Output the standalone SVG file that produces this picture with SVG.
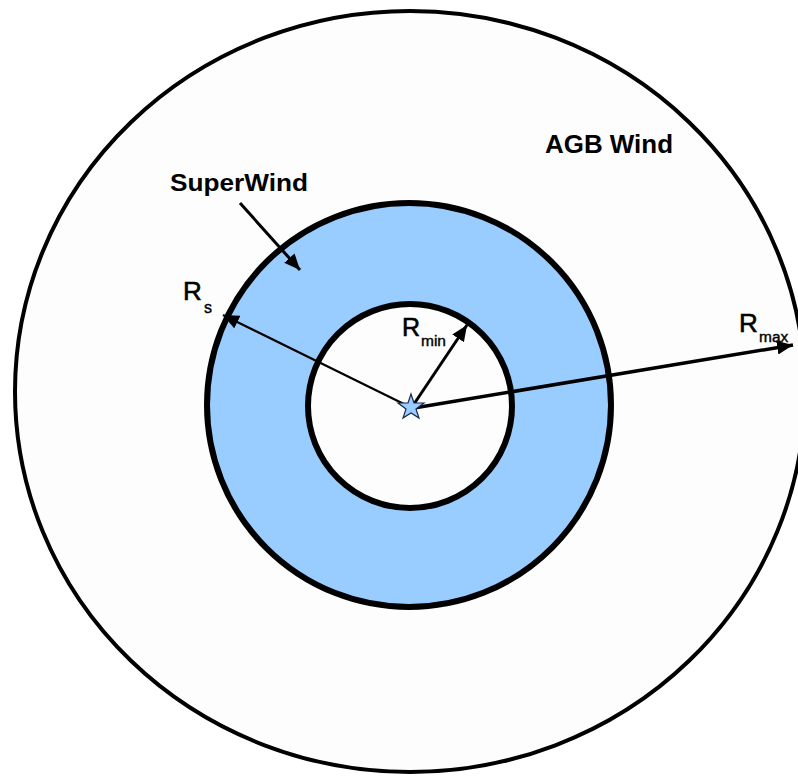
<svg xmlns="http://www.w3.org/2000/svg" width="798" height="776" viewBox="0 0 798 776">
  <style>
    .lbl { font-family: "Liberation Sans", Arial, sans-serif; fill: #000; }
    .bold { font-weight: bold; }
    .conn { stroke: #000; fill: none; }
  </style>
  <defs>
    <marker id="ah" markerUnits="userSpaceOnUse" markerWidth="18" markerHeight="14" refX="16" refY="7" orient="auto">
      <path d="M0,0 L16,7 L0,14 Z" fill="#000"/>
    </marker>
  </defs>
  <rect x="0" y="0" width="798" height="776" fill="#ffffff"/>

  <g id="agb-wind">
    <ellipse cx="410" cy="391.5" rx="395" ry="380.5" fill="#fdfdfd" stroke="#000" stroke-width="4"/>
  </g>
  <g id="superwind">
    <circle cx="409" cy="405" r="202" fill="#99ccff" stroke="#000" stroke-width="6"/>
  </g>
  <g id="inner-region">
    <circle cx="410" cy="406" r="102" fill="#fdfdfd" stroke="#000" stroke-width="6"/>
  </g>

  <g id="connectors">
    <line class="conn" x1="410" y1="407" x2="223" y2="315" stroke-width="2.2" marker-end="url(#ah)"/>
    <line class="conn" x1="412" y1="407" x2="467" y2="325" stroke-width="3" marker-end="url(#ah)"/>
    <line class="conn" x1="414" y1="408" x2="793" y2="345" stroke-width="3.5" marker-end="url(#ah)"/>
    <line class="conn" x1="240" y1="203" x2="300" y2="270" stroke-width="3" marker-end="url(#ah)"/>
  </g>

  <g id="star">
    <polygon points="411,394 414,403 424,403 416,409 419,418 411,413 403,418 406,409 398,403 408,403" fill="#99ccff" stroke="#1a2a4a" stroke-width="1.2"/>
  </g>

  <g id="label-superwind">
    <text class="lbl bold" x="170" y="191" font-size="24" textLength="138" lengthAdjust="spacingAndGlyphs">SuperWind</text>
  </g>
  <g id="label-agb">
    <text class="lbl bold" x="545" y="153" font-size="25" textLength="128" lengthAdjust="spacingAndGlyphs">AGB Wind</text>
  </g>
  <g id="label-rs">
    <text class="lbl" x="183" y="300" font-size="26" stroke="#000" stroke-width="0.6">R</text>
    <text class="lbl" x="204" y="313" font-size="16" stroke="#000" stroke-width="0.4">s</text>
  </g>
  <g id="label-rmin">
    <text class="lbl" x="402" y="336" font-size="25" stroke="#000" stroke-width="0.6">R</text>
    <text class="lbl" x="421" y="346" font-size="15.5" stroke="#000" stroke-width="0.4">min</text>
  </g>
  <g id="label-rmax">
    <text class="lbl" x="739" y="332" font-size="26" stroke="#000" stroke-width="0.6">R</text>
    <text class="lbl" x="759" y="342" font-size="15.5" stroke="#000" stroke-width="0.4">max</text>
  </g>
</svg>
